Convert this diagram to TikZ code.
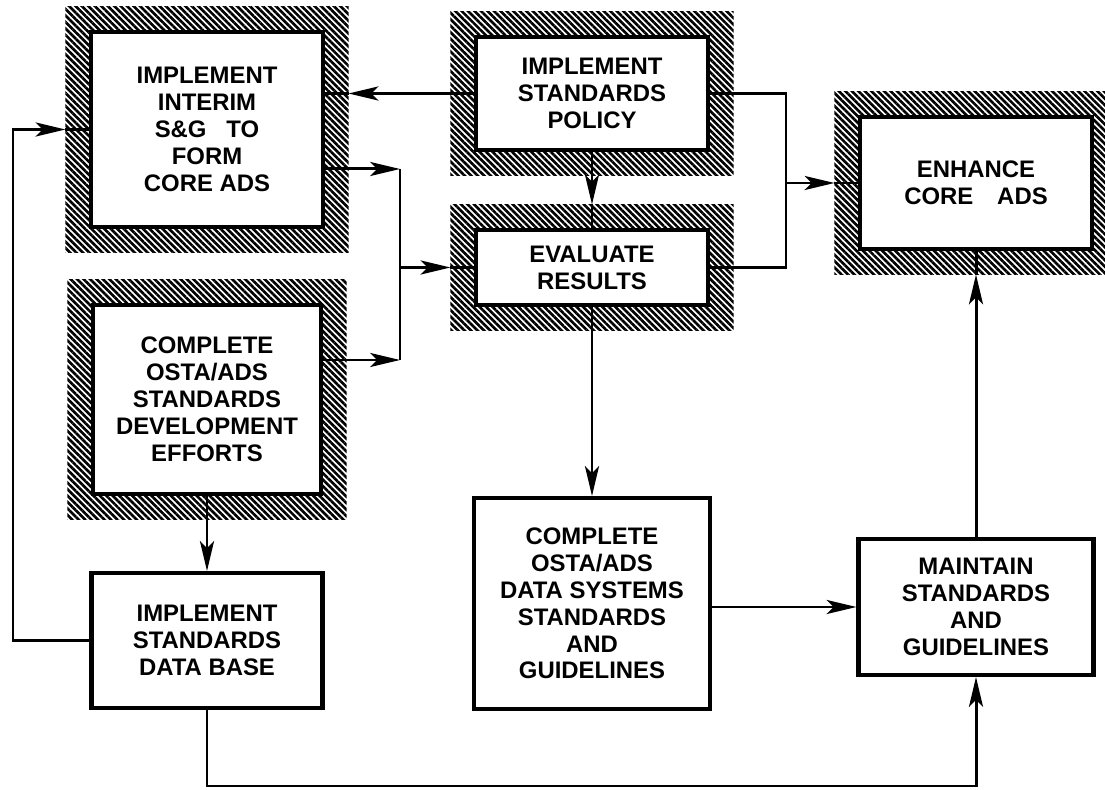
\documentclass[tikz,border=0pt]{standalone}
\usepackage{fontspec}
\setmainfont{Liberation Sans}
\usetikzlibrary{arrows.meta,positioning,fit,backgrounds,patterns.meta}

\begin{document}
\begin{tikzpicture}[->,>={Stealth[length=17pt,width=8pt,inset=4pt]},line width=1.7pt,node distance=3cm,
  main node/.style={rectangle,draw,fill=white,line width=2.3pt,minimum width=4.64cm,align=center,font=\bfseries\fontsize{13.6}{15.3}\selectfont},
  hatch node/.style={rectangle,inner sep=0.47cm,outer sep=0pt,pattern={Lines[angle=-45,distance=2.6pt,line width=1.5pt]}}]
  \useasboundingbox[-] (0,0) rectangle (22.1,-15.8);
  \node[main node,minimum height=3.9cm] (int) at (4.14,-2.59) {IMPLEMENT\\INTERIM\\S\&G\ \ \ TO\\FORM\\CORE ADS};
  \node[main node,minimum height=3.78cm,minimum width=4.56cm] (dev) [below of=int,node distance=5.4cm] {COMPLETE\\OSTA/ADS\\STANDARDS\\DEVELOPMENT\\EFFORTS};
  \node[main node,minimum height=2.7cm,minimum width=4.62cm] (dbase) [below of=dev,node distance=4.82cm] {IMPLEMENT\\STANDARDS\\DATA BASE};
  \node[main node,minimum height=2.26cm] (pol) at (11.84,-1.87) {IMPLEMENT\\STANDARDS\\POLICY};
  \node[main node,minimum height=1.5cm] (eval) [below of=pol,node distance=3.48cm] {EVALUATE\\RESULTS};
  \node[main node,minimum height=4.22cm,minimum width=4.72cm] (dsys) [below of=eval,node distance=6.72cm] {COMPLETE\\OSTA/ADS\\DATA SYSTEMS\\STANDARDS\\AND\\GUIDELINES};
  \node[main node,minimum height=2.64cm] (enh) at (19.52,-3.66) {ENHANCE\\CORE\quad ADS};
  \node[main node,minimum height=2.72cm,minimum width=4.7cm] (maint) [below of=enh,node distance=8.48cm] {MAINTAIN\\STANDARDS\\AND\\GUIDELINES};
  \begin{scope}[on background layer]
    \foreach \n in {int,dev,pol,eval,enh}
      \node[hatch node,fit=(\n)] (\n-h) {};
  \end{scope}
  \coordinate (jl) at (8,0);
  \coordinate (jr) at (15.72,0);
  \coordinate (lx) at (0.26,0);
  \coordinate (by) at (0,-15.72);
  \coordinate (intout) at ([yshift=-0.79cm]int.east);
  \coordinate (devout) at ([yshift=0.79cm]dev.east);
  \path (pol.south) edge (eval-h.north)
        (eval.south) edge (dsys.north)
        (dev.south) edge (dbase.north)
        (maint.north) edge (enh-h.south)
        (maint.west -| dsys.east) edge (maint.west);
  \draw[-] (eval-h.north) -- (eval.north);
  \draw[-] (enh-h.south) -- (enh.south);
  \draw[-] (int-h.west) -- (int.west);
  \draw[-] (eval-h.west) -- (eval.west);
  \draw[-] (enh-h.west) -- (enh.west);
  \draw[-] (pol.west -| int-h.east) -- (pol.west -| int.east);
  \draw (pol.west) -- (pol.west -| int-h.east);
  \draw (intout) -- (intout -| jl);
  \draw (devout) -- (devout -| jl);
  \draw[-] (intout -| jl) -- (devout -| jl);
  \draw (eval.west -| jl) -- (eval-h.west);
  \draw[-] (pol.east) -- (pol.east -| jr) -- (eval.east -| jr) -- (eval.east);
  \draw (enh.west -| jr) -- (enh-h.west);
  \draw (dbase.west) -- (dbase.west -| lx) -- (int.west -| lx) -- (int-h.west);
  \draw (dbase.south) -- (dbase.south |- by) -- (maint.south |- by) -- (maint.south);
\end{tikzpicture}
\end{document}
